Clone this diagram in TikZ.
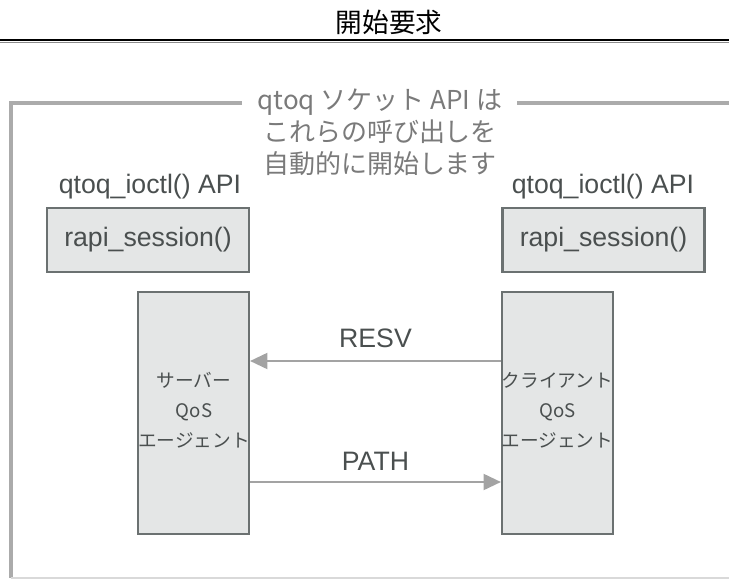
\documentclass[tikz,border=0pt]{standalone}
\usepackage{fontspec}
\setmainfont{Liberation Sans}
\newfontfamily\jp{Noto Sans CJK JP}
\usetikzlibrary{arrows.meta,calc}
\definecolor{boxfill}{HTML}{E4E6E6}
\definecolor{boxline}{HTML}{6B7171}
\definecolor{txt}{HTML}{4A4F4F}
\definecolor{note}{HTML}{7A7A7A}
\definecolor{frame}{HTML}{ABABAB}
\definecolor{arrowc}{HTML}{A3A3A3}
\tikzset{
  apibox/.style={draw=boxline, fill=boxfill, line width=1.6pt, minimum width=202*0.75pt, minimum height=64*0.75pt, inner sep=0pt, text=txt, font=\fontsize{20}{24}\selectfont},
  agentbox/.style={draw=boxline, fill=boxfill, line width=1.6pt, minimum width=111*0.75pt, minimum height=242*0.75pt, inner sep=0pt},
  agenttext/.style={text=txt, align=center, font=\jp\fontsize{14}{22.5}\selectfont, inner sep=0pt},
  apilabel/.style={text=txt, font=\fontsize{20}{24}\selectfont, inner sep=0pt},
  flow/.style={draw=arrowc, line width=1.5pt, -{Triangle[length=13pt,width=12pt]}},
  flowlabel/.style={text=txt, font=\fontsize{20}{24}\selectfont, inner sep=0pt}
}
\begin{document}
\begin{tikzpicture}[x=0.75pt,y=-0.75pt]
\useasboundingbox (0,0) rectangle (729,579);
% title and rule
\node[font=\jp\fontsize{20}{24}\selectfont, text=black, inner sep=0pt] (title) at (389,22) {開始要求};
\draw[line width=1.6pt, black] (0,40) -- (729,40);
\draw[line width=0.8pt, black!45] (0,42.2) -- (729,42.2);
% frame
\draw[frame, line width=3.2pt] (242,103) -- (11,103) -- (11,578);
\draw[frame, line width=3.2pt] (517,103) -- (729,103);
\draw[black!15, line width=1.2pt] (11,578) -- (729,578);
% annotation
\node[text=note, align=center, font=\jp\fontsize{19.5}{24}\selectfont, inner sep=0pt] (note) at (380,132)
  {qtoq ソケット API は\\これらの呼び出しを\\自動的に開始します};
% api labels
\node[apilabel] (lapi) at (150,187) {qtoq\_ioctl() API};
\node[apilabel] (rapi) at (603,187) {qtoq\_ioctl() API};
% rapi_session boxes
\node[apibox] (lsess) at (148,240) {rapi\_session()};
\node[apibox] (rsess) at (603.5,240) {rapi\_session()};
% agent boxes
\node[agentbox] (ltall) at (193.5,413) {};
\node[agentbox] (rtall) at (557.5,413) {};
\node[agenttext] (ltxt) at (194,410) {サーバー\\QoS\\エージェント};
\node[agenttext] (rtxt) at (557.5,410) {クライアント\\QoS\\エージェント};
% flows
\draw[flow] ($(rtall.west)+(0,-52)$) -- node[flowlabel, above=9pt] (resv) {RESV} ($(ltall.east)+(0,-52)$);
\draw[flow] ($(ltall.east)+(0,69)$) -- node[flowlabel, above=8pt] (path) {PATH} ($(rtall.west)+(0,69)$);
\end{tikzpicture}
\end{document}
